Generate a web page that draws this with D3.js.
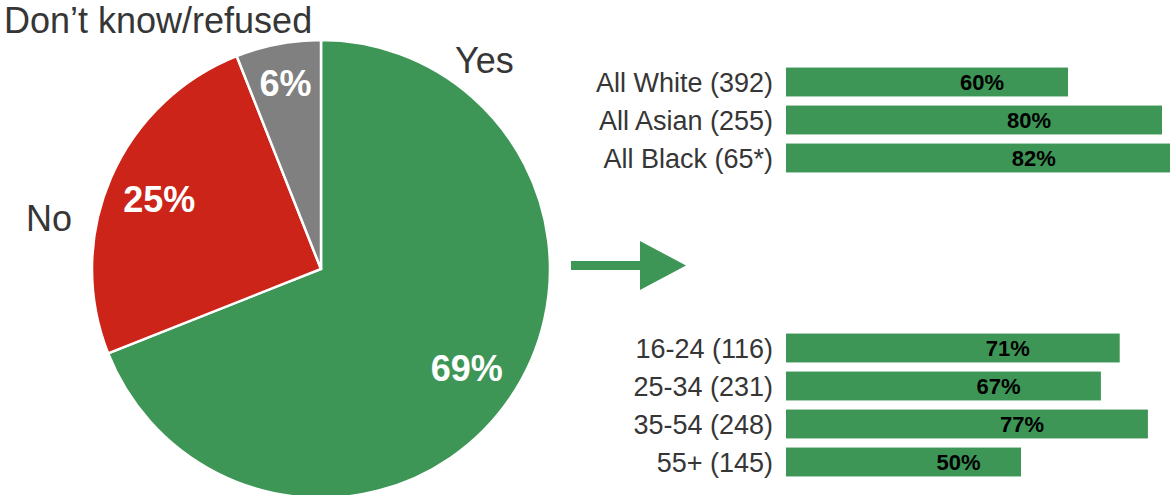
<!DOCTYPE html>
<html>
<head>
<meta charset="utf-8">
<script src="https://cdn.jsdelivr.net/npm/d3@7"></script>
<style>
  body { margin: 0; background: #fff; }
  svg { display: block; font-family: "Liberation Sans", Arial, sans-serif; }
</style>
</head>
<body>
<svg id="chart" width="1170" height="495"></svg>
<script>
// pie: overall answer
const pieLabels = ["Yes", "No", "Don\u2019t know/refused"];
const pieValues = [69, 25, 6];
const pieColors = ["#3d9656", "#cc2418", "#808080"];

// bars: breakdown of "Yes"
const ethnicGroups = ["All White (392)", "All Asian (255)", "All Black (65*)"];
const ethnicValues = [60, 80, 82];
const ageGroups = ["16-24 (116)", "25-34 (231)", "35-54 (248)", "55+ (145)"];
const ageValues = [71, 67, 77, 50];

const svg = d3.select("#chart");
const green = "#3d9656";
const textColor = "#363636";

// ---- pie ----
const cx = 321, cy = 269, radius = 229;
const pieG = svg.append("g").attr("transform", `translate(${cx},${cy})`);

const pie = d3.pie().sort(null).value(d => d.value);
const arc = d3.arc().innerRadius(0).outerRadius(radius);
const pieData = pie(pieValues.map((v, i) => ({label: pieLabels[i], value: v, color: pieColors[i]})));

pieG.selectAll("path").data(pieData).enter().append("path")
    .attr("d", arc)
    .attr("fill", d => d.data.color)
    .attr("stroke", "#fff")
    .attr("stroke-width", 2.5);

// percentage labels inside slices
const pctRadius = [0.77, 0.77, 0.825];
pieG.selectAll("text.pct").data(pieData).enter().append("text")
    .attr("class", "pct")
    .attr("transform", (d, i) => {
        const c = d3.arc().innerRadius(radius * pctRadius[i]).outerRadius(radius * pctRadius[i]).centroid(d);
        return `translate(${c[0]},${c[1]})`;
    })
    .attr("text-anchor", "middle")
    .attr("dy", "0.36em")
    .style("font-size", "36px")
    .style("font-weight", "bold")
    .attr("fill", "#fff")
    .text(d => d.data.value + "%");

// category labels outside pie
svg.append("text").attr("x", 455).attr("y", 73)
    .style("font-size", "36px").attr("fill", textColor).text(pieLabels[0]);
svg.append("text").attr("x", 26).attr("y", 231)
    .style("font-size", "36px").attr("fill", textColor).text(pieLabels[1]);
svg.append("text").attr("x", 4).attr("y", 33)
    .style("font-size", "36px").attr("fill", textColor).text(pieLabels[2]);

// ---- arrow ----
svg.append("rect").attr("x", 571).attr("y", 261).attr("width", 72).attr("height", 9).attr("fill", green);
svg.append("path").attr("d", "M640,241 L686,265.5 L640,290 Z").attr("fill", green);

// ---- bars ----
const x = d3.scaleLinear().domain([0, 100]).range([786, 786 + 470]);

function drawBars(cats, vals, top) {
    const y = d3.scaleBand().domain(cats).range([top, top + cats.length * 38]).paddingInner(0.24).paddingOuter(0.12);
    const g = svg.append("g");
    const rows = cats.map((c, i) => ({cat: c, value: vals[i]}));

    g.selectAll("rect").data(rows).enter().append("rect")
        .attr("x", x(0))
        .attr("y", d => y(d.cat))
        .attr("width", d => x(d.value) - x(0))
        .attr("height", y.bandwidth())
        .attr("fill", green);

    g.selectAll("text.cat").data(rows).enter().append("text")
        .attr("class", "cat")
        .attr("x", x(0) - 13)
        .attr("y", d => y(d.cat) + y.bandwidth() / 2)
        .attr("dy", "0.36em")
        .attr("text-anchor", "end")
        .style("font-size", "27px")
        .attr("fill", textColor)
        .text(d => d.cat);

    g.selectAll("text.val").data(rows).enter().append("text")
        .attr("class", "val")
        .attr("x", d => (x(0) + x(d.value)) / 2 + 55)
        .attr("y", d => y(d.cat) + y.bandwidth() / 2)
        .attr("dy", "0.36em")
        .attr("text-anchor", "middle")
        .style("font-size", "22px")
        .style("font-weight", "bold")
        .attr("fill", "#000")
        .text(d => d.value + "%");
}

drawBars(ethnicGroups, ethnicValues, 63);
drawBars(ageGroups, ageValues, 329);
</script>
</body>
</html>
